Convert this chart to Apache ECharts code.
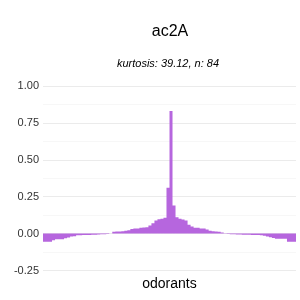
<!DOCTYPE html>
<html><head><meta charset="utf-8">
<script src="https://cdn.jsdelivr.net/npm/echarts@6/dist/echarts.min.js"></script>
<style>html,body{margin:0;padding:0;background:#fff}#c{width:300px;height:300px}</style>
</head><body><div id="c"></div>
<script>
const titleText = "ac2A";
const subtitleText = "kurtosis: 39.12, n: 84";
const values = [
 -0.055,-0.055,-0.055,-0.045,-0.038,-0.038,-0.038,-0.032,-0.026,-0.02,-0.018,
 -0.012,-0.011,-0.01,-0.01,-0.009,-0.008,-0.007,-0.006,-0.005,-0.004,
 -0.002,0.001,
 0.012,0.014,0.015,0.016,
 0.02,0.022,
 0.032,0.034,0.035,
 0.04,0.041,0.043,
 0.055,0.07,0.088,0.097,0.10,0.108,
 0.31,0.83,0.19,
 0.11,0.10,0.095,0.088,
 0.06,0.048,
 0.04,0.039,
 0.035,0.034,
 0.028,0.02,
 0.016,0.015,0.013,
 0.008,0.002,-0.002,
 -0.004,-0.005,-0.006,-0.006,-0.007,-0.008,-0.008,-0.009,-0.01,-0.01,-0.011,
 -0.015,-0.02,-0.025,-0.03,
 -0.035,-0.035,-0.035,-0.035,
 -0.055,-0.055,-0.055
];
const categories = values.map((v,i)=>"o"+(i+1));
const yTicks = [-0.25, 0, 0.25, 0.5, 0.75, 1.0];
const chart = echarts.init(document.getElementById('c'), null, {renderer:'canvas'});
chart.setOption({
  animation:false,
  backgroundColor:'#fff',
  title:[
    {text:titleText, left:165, top:19, textAlign:'center',
     textStyle:{fontFamily:'Liberation Sans, Arial, sans-serif', fontSize:16, fontWeight:'normal', color:'#000'}},
    {text:subtitleText, left:163, top:53, textAlign:'center',
     textStyle:{fontFamily:'Liberation Sans, Arial, sans-serif', fontSize:11, fontStyle:'italic', fontWeight:'normal', color:'#000'}}
  ],
  grid:{left:43, right:4, top:86, bottom:29.5, containLabel:false, outerBoundsMode:'none'},
  xAxis:{type:'category', data:categories, boundaryGap:true,
    name:'odorants', nameLocation:'middle', nameGap:7,
    nameTextStyle:{fontFamily:'Liberation Sans, Arial, sans-serif', fontSize:14, color:'#000', verticalAlign:'top'},
    axisLine:{show:false}, axisTick:{show:false}, axisLabel:{show:false}, splitLine:{show:false}},
  yAxis:{type:'value', min:yTicks[0], max:yTicks[yTicks.length-1], interval:0.25,
    name:'value', nameLocation:'middle', nameGap:36, nameRotate:90,
    nameTextStyle:{fontFamily:'Liberation Sans, Arial, sans-serif', fontSize:14, color:'#000'},
    axisLine:{show:false}, axisTick:{show:false},
    axisLabel:{fontFamily:'Liberation Sans, Arial, sans-serif', fontSize:11, color:'#333', margin:4,
      formatter:v=>v.toFixed(2)},
    splitLine:{show:true, lineStyle:{color:'#ebebeb', width:1}},
    minorTick:{show:false, splitNumber:2},
    minorSplitLine:{show:true, lineStyle:{color:'#f7f7f7', width:1}}},
  series:[{type:'bar', data:values, barWidth:'100%', barGap:'0%',
    large:true, largeThreshold:10,
    itemStyle:{color:'#b666de'}}]
});
</script></body></html>
